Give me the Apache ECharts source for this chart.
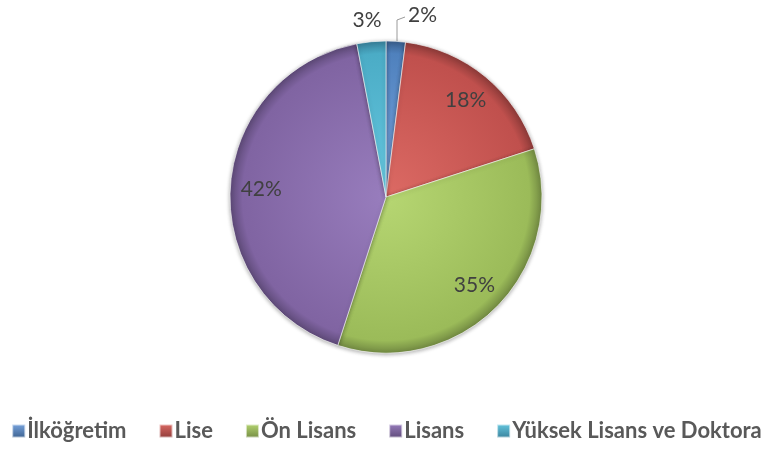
<!DOCTYPE html>
<html><head><meta charset="utf-8">
<script src="https://cdn.jsdelivr.net/npm/echarts@6/dist/echarts.min.js"></script>
<style>html,body{margin:0;padding:0;background:#fff}#c{width:773px;height:450px}</style>
</head><body><div id="c"></div>
<script>
var categories = ['İlköğretim', 'Lise', 'Ön Lisans', 'Lisans', 'Yüksek Lisans ve Doktora'];
var values = [2, 18, 35, 42, 3];
var baseColors = ['#4F81BD', '#C0504D', '#9BBB59', '#8064A2', '#4BACC6'];
var lightColors = ['#7aa6e0', '#dc6a64', '#b6d672', '#987dbd', '#66c8e0'];
var darkColors = ['#3a5f8d', '#8e3b39', '#728a42', '#5e4a78', '#37809a'];

var CX = 386, CY = 197, R = 156;
var chart = echarts.init(document.getElementById('c'));

function grad(i) {
  return {
    type: 'radial', x: CX, y: CY, r: R, global: true,
    colorStops: [
      {offset: 0, color: lightColors[i]},
      {offset: 0.92, color: baseColors[i]},
      {offset: 1, color: darkColors[i]}
    ]
  };
}
function legendGrad(i) {
  return {
    type: 'linear', x: 0, y: 0, x2: 0, y2: 1,
    colorStops: [{offset: 0, color: lightColors[i]}, {offset: 1, color: darkColors[i]}]
  };
}

var mainData = categories.map(function (c, i) {
  return {name: c, value: values[i], labelLine: {show: i === 0},
    itemStyle: {color: grad(i), borderColor: 'rgba(255,255,255,0.6)', borderWidth: 1}};
});
var labelData = categories.map(function (c, i) {
  return {name: c, value: values[i], label: {show: values[i] >= 5}};
});

var option = {
  animation: false,
  color: baseColors,
  legend: {
    bottom: 3, left: 'center',
    itemWidth: 13, itemHeight: 13, itemGap: 32,
    icon: 'rect',
    textStyle: {fontFamily: 'Lato', fontWeight: 'bold', fontSize: 22, color: '#595959', padding: [0, 0, 0, -3]},
    data: categories.map(function (c, i) { return {name: c, itemStyle: {color: legendGrad(i)}}; })
  },
  series: [{
    type: 'pie',
    center: [CX, CY], radius: R,
    startAngle: 90, clockwise: true,
    itemStyle: {shadowBlur: 4, shadowColor: 'rgba(0,0,0,0.35)', shadowOffsetY: 1},
    label: {
      show: true, position: 'outside',
      formatter: function (p) { return p.value < 5 ? p.value + '%' : ''; },
      fontFamily: 'Lato', fontSize: 21, color: '#404040'
    },
    labelLine: {show: true, lineStyle: {color: '#9a9a9a', width: 1}},
    labelLayout: function (p) {
      if (p.dataIndex === 0) {
        return {x: CX + 22, y: CY - R - 26, align: 'left', verticalAlign: 'middle',
          labelLinePoints: [[CX + 11, CY - R + 1], [CX + 11, CY - R - 21], [CX + 19, CY - R - 24]]};
      }
      if (p.dataIndex === 4) {
        return {x: CX - 19, y: CY - R - 21, align: 'center', verticalAlign: 'middle', labelLinePoints: [[0,0],[0,0],[0,0]]};
      }
      return {};
    },
    data: mainData
  }, {
    type: 'pie',
    center: [CX, CY], radius: [88, R],
    startAngle: 90, clockwise: true,
    silent: true,
    legendHoverLink: false,
    itemStyle: {color: 'transparent'},
    label: {
      show: true, position: 'inside',
      formatter: '{c}%',
      fontFamily: 'Lato', fontSize: 21, color: '#404040'
    },
    labelLine: {show: false},
    data: labelData
  }]
};
chart.setOption(option);
</script></body></html>
